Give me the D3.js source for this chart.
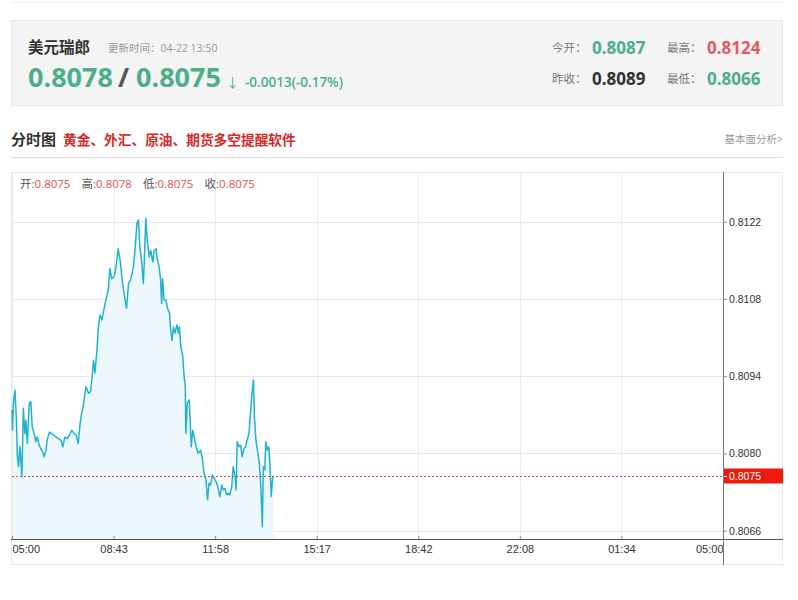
<!DOCTYPE html>
<html><head><meta charset="utf-8">
<script src="https://cdn.jsdelivr.net/npm/d3@7"></script>
<style>body{margin:0;background:#fff;}svg{display:block;font-family:"Open Sans","Noto Sans CJK SC",sans-serif;}</style>
</head><body><svg id="c" width="798" height="600"></svg>
<script>
// ---------- data ----------
const symbolName = "美元瑞郎";
const updateTime = "04-22 13:50";
const bidPrice = "0.8078";
const askPrice = "0.8075";
const changeText = "-0.0013(-0.17%)";
const statLabels = ["今开", "最高", "昨收", "最低"];
const statValues = ["0.8087", "0.8124", "0.8089", "0.8066"];
const ohlcLabels = ["开", "高", "低", "收"];
const ohlcValues = ["0.8075", "0.8078", "0.8075", "0.8075"];
const titleText = "分时图";
const promoText = "黄金、外汇、原油、期货多空提醒软件";
const linkText = "基本面分析>";
const timeLabels = ["05:00", "08:43", "11:58", "15:17", "18:42", "22:08", "01:34", "05:00"];
const slotsPerDay = 1440;
const yTicks = [0.8066, 0.8080, 0.8094, 0.8108, 0.8122];
const lastPriceLabel = "0.8075";
const slots = [0,1,3,6,9,11,13,16,20,23,26,28,31,35,38,41,45,48,51,55,58,62,65,69,71,76,80,85,89,94,99,103,107,112,116,121,126,130,134,138,141,144,150,155,159,163,165,168,172,175,178,182,186,190,195,198,202,207,211,215,219,224,229,232,236,240,246,249,253,256,259,263,266,268,271,274,278,281,285,288,292,294,298,301,303,305,308,312,315,319,321,324,327,330,334,337,339,342,346,348,351,352,355,359,363,366,369,373,377,382,386,389,393,396,399,402,406,411,415,418,421,425,428,431,435,438,441,445,448,452,454,456,460,463,466,470,473,476,480,483,486,489,491,494,498,501,504,507,509,512,514,517,520,522,525,528,530];
const prices = [0.80879,0.80842,0.80894,0.80915,0.80860,0.80794,0.80776,0.80812,0.80758,0.80882,0.80836,0.80860,0.80818,0.80891,0.80894,0.80848,0.80836,0.80821,0.80830,0.80815,0.80809,0.80803,0.80794,0.80806,0.80824,0.80839,0.80836,0.80833,0.80830,0.80827,0.80824,0.80812,0.80830,0.80827,0.80833,0.80842,0.80836,0.80833,0.80818,0.80855,0.80873,0.80885,0.80921,0.80909,0.80912,0.80945,0.80969,0.80946,0.80987,0.81029,0.81051,0.81042,0.81060,0.81078,0.81096,0.81135,0.81117,0.81120,0.81141,0.81171,0.81150,0.81108,0.81078,0.81063,0.81108,0.81114,0.81138,0.81168,0.81217,0.81223,0.81174,0.81144,0.81108,0.81150,0.81226,0.81186,0.81156,0.81168,0.81147,0.81168,0.81171,0.81153,0.81138,0.81114,0.81072,0.81117,0.81078,0.81078,0.81063,0.81054,0.81027,0.81005,0.81029,0.81018,0.81033,0.81018,0.81029,0.80993,0.80975,0.80945,0.80921,0.80836,0.80891,0.80897,0.80812,0.80842,0.80830,0.80812,0.80800,0.80806,0.80788,0.80764,0.80752,0.80716,0.80746,0.80743,0.80761,0.80752,0.80746,0.80734,0.80722,0.80743,0.80734,0.80737,0.80725,0.80728,0.80725,0.80740,0.80776,0.80758,0.80734,0.80821,0.80812,0.80815,0.80794,0.80809,0.80812,0.80824,0.80836,0.80873,0.80909,0.80933,0.80866,0.80824,0.80800,0.80782,0.80740,0.80667,0.80776,0.80770,0.80821,0.80806,0.80812,0.80788,0.80722,0.80758,0.80759];

// ---------- colours ----------
const green = "#4caf88", red = "#e05d5d", lineColor = "#22b2cc";

const svg = d3.select("#c");

// ---------- header box ----------
svg.append("line").attr("x1", 11).attr("x2", 783).attr("y1", 2).attr("y2", 2).attr("stroke", "#eeeeee");
svg.append("rect").attr("x", 11.5).attr("y", 20.5).attr("width", 771).attr("height", 85)
  .attr("fill", "#f4f4f4").attr("stroke", "#e6e6e6");
svg.append("text").attr("x", 28).attr("y", 53).attr("font-size", 15.5).attr("font-weight", "bold")
  .attr("fill", "#333").text(symbolName);
svg.append("text").attr("x", 108).attr("y", 52).attr("font-size", 10.5).attr("fill", "#9a9a9a")
  .text("更新时间：" + updateTime);
const big = svg.append("text").attr("y", 87).attr("font-size", 27).attr("font-weight", "bold");
big.append("tspan").attr("x", 28).attr("fill", green).text(bidPrice);
big.append("tspan").attr("x", 118).attr("fill", "#555").text("/");
big.append("tspan").attr("x", 136).attr("fill", green).text(askPrice);
svg.append("text").attr("x", 226).attr("y", 87).attr("font-size", 13)
  .attr("fill", green).text("↓");
svg.append("text").attr("x", 245).attr("y", 87).attr("font-size", 13.5).attr("font-weight", 600)
  .attr("fill", green).text(changeText);

const statColors = [green, red, "#333", green];
statLabels.forEach((lab, i) => {
  const col = i % 2, row = Math.floor(i / 2);
  const x0 = 552 + col * 115, yb = 53 + row * 31;
  svg.append("text").attr("x", x0).attr("y", yb - 1).attr("font-size", 11.5).attr("fill", "#777").text(lab + "：");
  svg.append("text").attr("x", x0 + 40).attr("y", yb + 1).attr("font-size", 17).attr("font-weight", "bold")
    .attr("fill", statColors[i]).text(statValues[i]);
});

// ---------- title row ----------
svg.append("text").attr("x", 11).attr("y", 145).attr("font-size", 15).attr("font-weight", "bold")
  .attr("fill", "#333").text(titleText);
svg.append("text").attr("x", 63).attr("y", 145).attr("font-size", 13.7).attr("font-weight", "bold")
  .attr("fill", "#d42a2a").text(promoText);
svg.append("text").attr("x", 783).attr("y", 143).attr("text-anchor", "end").attr("font-size", 10.5)
  .attr("fill", "#999").text(linkText);
svg.append("line").attr("x1", 11).attr("x2", 783).attr("y1", 157.5).attr("y2", 157.5).attr("stroke", "#dcdcdc");

// ---------- chart ----------
const pLeft = 12, pRight = 723, pTop = 172, pBottom = 539;
svg.append("rect").attr("x", 11.5).attr("y", 172.5).attr("width", 771).attr("height", 392)
  .attr("fill", "#fff").attr("stroke", "#e8e8e8");

const x = d3.scaleLinear().domain([0, slotsPerDay]).range([pLeft, pRight]);
const y = d3.scaleLinear().domain([0.80645, 0.81310]).range([pBottom, pTop]);
const tickSlots = timeLabels.map((_, i) => i * slotsPerDay / (timeLabels.length - 1));

// grid
svg.append("g").selectAll("line").data(tickSlots).join("line")
  .attr("x1", d => Math.round(x(d)) + 0.5).attr("x2", d => Math.round(x(d)) + 0.5)
  .attr("y1", pTop).attr("y2", pBottom).attr("stroke", "#ececec");
svg.append("g").selectAll("line").data(yTicks).join("line")
  .attr("x1", pLeft).attr("x2", pRight)
  .attr("y1", d => Math.round(y(d)) + 0.5).attr("y2", d => Math.round(y(d)) + 0.5).attr("stroke", "#e8e8e8");

const pts = slots.map((s, i) => [s, prices[i]]);
svg.append("path").datum(pts)
  .attr("d", d3.area().x(d => x(d[0])).y0(pBottom).y1(d => y(d[1])))
  .attr("fill", "#edf8fc");
svg.append("path").datum(pts)
  .attr("d", d3.line().x(d => x(d[0])).y(d => y(d[1])))
  .attr("fill", "none").attr("stroke", lineColor).attr("stroke-width", 1.5).attr("stroke-linejoin", "round");

// last price line
const lastY = Math.round(y(prices[prices.length - 1])) + 0.5;
svg.append("line").attr("x1", pLeft).attr("x2", pRight).attr("y1", lastY).attr("y2", lastY)
  .attr("stroke", "#e04444").attr("stroke-dasharray", "2,2");

// x axis
const xAxis = d3.axisBottom(x).tickValues(tickSlots).tickSize(4).tickFormat((d, i) => timeLabels[i]);
const gx = svg.append("g").attr("transform", `translate(0,${pBottom})`).call(xAxis);
gx.select(".domain").remove();
gx.append("line").attr("x1", 11).attr("x2", 783).attr("y1", 0.5).attr("y2", 0.5).attr("stroke", "#555");
gx.selectAll(".tick line").attr("y1", -3).attr("y2", 1).attr("stroke", "#888");
gx.selectAll(".tick text").attr("y", 6).attr("dy", "0.71em").attr("font-size", 11)
  .attr("font-family", "'Liberation Sans',sans-serif").attr("fill", "#333")
  .attr("text-anchor", (d, i) => i === 0 ? "start" : (i === timeLabels.length - 1 ? "end" : "middle"));

// y axis (right side)
const yAxis = d3.axisRight(y).tickValues(yTicks).tickSize(4).tickFormat(d3.format(".4f"));
const gy = svg.append("g").attr("transform", `translate(${pRight},0)`).call(yAxis);
gy.select(".domain").remove();
gy.append("line").attr("x1", 0.5).attr("x2", 0.5).attr("y1", pTop).attr("y2", 565).attr("stroke", "#777");
gy.selectAll(".tick line").attr("stroke", "#888");
gy.selectAll(".tick text").attr("x", 6).attr("font-size", 10.5)
  .attr("font-family", "'Liberation Sans',sans-serif").attr("fill", "#333");

// last price label
svg.append("rect").attr("x", pRight + 1).attr("y", lastY - 8).attr("width", 59).attr("height", 15).attr("fill", "#ee1b0c");
svg.append("line").attr("x1", pRight + 1).attr("x2", pRight + 4).attr("y1", lastY).attr("y2", lastY).attr("stroke", "#fff");
svg.append("text").attr("x", pRight + 6).attr("y", lastY).attr("dy", "0.35em").attr("font-size", 10.5)
  .attr("font-family", "'Liberation Sans',sans-serif").attr("fill", "#fff").text(lastPriceLabel);

// OHLC info
ohlcLabels.forEach((lab, i) => {
  const t = svg.append("text").attr("x", 20 + i * 61.5).attr("y", 188).attr("font-size", 11.5);
  t.append("tspan").attr("fill", "#555").text(lab + ":");
  t.append("tspan").attr("fill", "#e0524f").text(ohlcValues[i]);
});
</script></body></html>
